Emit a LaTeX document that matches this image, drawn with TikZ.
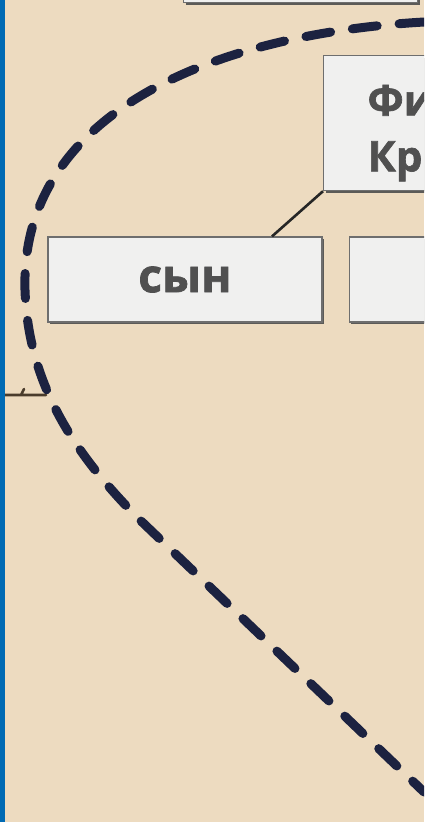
\documentclass[tikz,border=0pt]{standalone}
\usepackage{fontspec}
\setmainfont{Open Sans}[BoldFeatures={FakeBold=1.6}]
\usetikzlibrary{positioning,shadows}
\definecolor{paper}{HTML}{EDDBC0}
\definecolor{band}{HTML}{006AB4}
\definecolor{ink}{HTML}{1C2240}
\definecolor{cardfill}{HTML}{F0F0EF}
\definecolor{edge}{HTML}{6E6E6E}
\definecolor{word}{HTML}{505050}
\definecolor{bark}{HTML}{4A3C2C}
\tikzset{
  card/.style={rectangle, fill=cardfill, draw=edge, line width=1.2pt, inner sep=0pt,
    drop shadow={shadow xshift=2pt, shadow yshift=-2.4pt, fill=black!70, opacity=0.9}},
  person/.style={text=word, font=\bfseries\fontsize{42}{56}\selectfont},
  rel/.style={text=word, font=\bfseries\fontsize{46}{50}\selectfont},
  link/.style={draw=black!85, line width=2.6pt},
  twig/.style={draw=bark, line width=2.6pt, line cap=round},
  bound/.style={draw=ink, line width=9pt, line cap=round, dash pattern=on 25pt off 22pt},
}
\newcommand\sunk[1]{\raisebox{-10pt}[\height][\depth]{#1}}
\begin{document}
\begin{tikzpicture}[x=1pt,y=-1pt]
  \fill[paper] (0,0) rectangle (424,822);
  \useasboundingbox (0,0) rectangle (424,822);
  \clip (0,0) rectangle (424,822);
  % family boxes
  \node[card, anchor=south west, minimum width=234pt, minimum height=40pt] (head) at (183,3) {};
  \node[card, person, anchor=north west, align=left, text width=256pt, inner xsep=44pt,
        minimum height=135pt] (phil) at (323,55) {\sunk{Фи}\\\sunk{Кр}};
  \node[card, rel, minimum width=274pt, minimum height=85pt] (syn) at (185,279.5) {сын};
  \node[card, minimum width=200pt, minimum height=85pt, right=26pt of syn] (kin) {};
  \draw[link] (phil.south west) -- ([xshift=87pt]syn.north);
  % branch from the left
  \coordinate (twigL) at (0,395);
  \coordinate (twigR) at (46,395);
  \draw[twig] (twigL) -- (twigR) (21,395) -- (24,389);
  % dashed border
  \draw[bound] (424,22) .. controls (200,35) and (20,120) .. (25,290)
    .. controls (28,380) and (70,450) .. (140,520) -- (424,792);
  \fill[band] (0,0) rectangle (5,822);
\end{tikzpicture}
\end{document}
